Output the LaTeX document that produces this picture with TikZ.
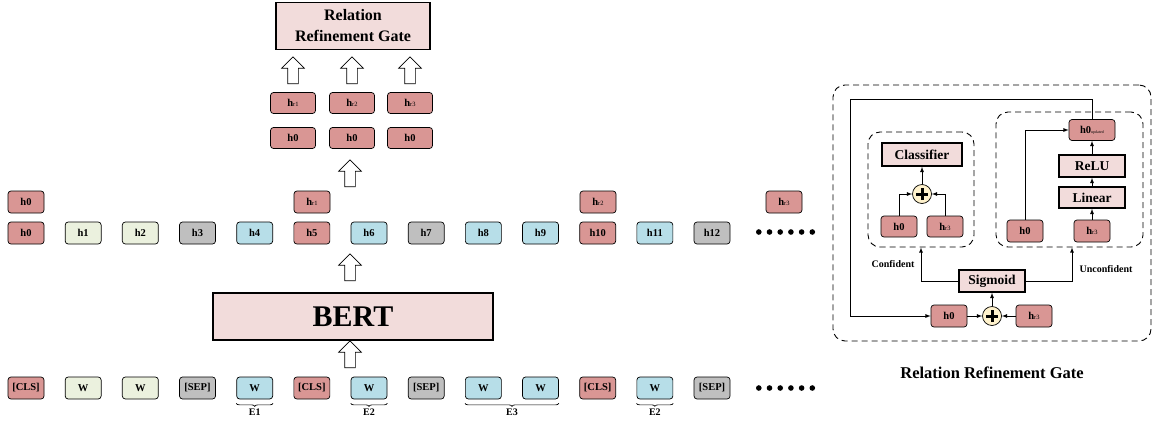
\documentclass[tikz,border=0pt]{standalone}
\usepackage{fontspec}
\setmainfont{Liberation Serif}
\usetikzlibrary{arrows,shapes.arrows,decorations.pathreplacing}
\definecolor{redtokc}{HTML}{D99694}
\definecolor{greentokc}{HTML}{EBF1DE}
\definecolor{graytokc}{HTML}{BFBFBF}
\definecolor{bluetokc}{HTML}{B7DEE8}
\definecolor{pinkboxc}{HTML}{F2DCDB}
\definecolor{plusc}{HTML}{FFF2CC}
\newcommand{\hrel}[1]{h{\fontsize{6.5}{6.5}\selectfont\mdseries #1}}
\newcommand{\hupd}{h0{\fontsize{4}{4}\selectfont\mdseries updated}}

\begin{document}
\begin{tikzpicture}[x=1pt,y=-1pt,
  tok/.style={draw,line width=0.7pt,rounded corners=3pt,minimum width=36pt,minimum height=22pt,inner sep=0pt,font=\fontsize{10.5}{12}\selectfont\bfseries},
  redtok/.style={tok,fill=redtokc},
  greentok/.style={tok,fill=greentokc},
  graytok/.style={tok,fill=graytokc},
  bluetok/.style={tok,fill=bluetokc},
  widetok/.style={redtok,minimum width=45pt,minimum height=21pt},
  bigbox/.style={draw,line width=1.6pt,fill=pinkboxc,inner sep=0pt,font=\fontsize{13.5}{16}\selectfont\bfseries},
  blockup/.style={single arrow,draw,line width=0.7pt,fill=white,rotate=90,minimum height=27pt,inner xsep=0pt,inner ysep=5pt,single arrow head extend=6pt},
  oplus/.style={circle,draw,line width=0.7pt,fill=plusc,minimum size=19pt,inner sep=0pt,
    path picture={\draw[line width=3pt] ([xshift=-6pt]path picture bounding box.center) -- ([xshift=6pt]path picture bounding box.center)
      ([yshift=-6pt]path picture bounding box.center) -- ([yshift=6pt]path picture bounding box.center);}},
  dashbox/.style={draw=black,line width=0.9pt,dash pattern=on 6pt off 4pt,rounded corners=12pt},
  conn/.style={draw,line width=0.8pt,-latex},
  lab/.style={font=\fontsize{10}{12}\selectfont\bfseries}]
\useasboundingbox (0,0) rectangle (1156,421);

% input tokens and BERT outputs
\foreach \lab/\sty [count=\i from 0] in {{[CLS]}/redtok,W/greentok,W/greentok,{[SEP]}/graytok,W/bluetok,{[CLS]}/redtok,W/bluetok,{[SEP]}/graytok,W/bluetok,W/bluetok,{[CLS]}/redtok,W/bluetok,{[SEP]}/graytok}
  \node[\sty] (t\i) at ({26+57.17*\i},388) {\lab};
\foreach \sty [count=\i from 0] in {redtok,greentok,greentok,graytok,bluetok,redtok,bluetok,graytok,bluetok,bluetok,redtok,bluetok,graytok}
  \node[\sty] (h\i) at ({26+57.17*\i},233) {h\i};
\foreach \k in {0,...,5} {
  \fill (758.8+\k*10.7,232) circle (2.8);
  \fill (758.8+\k*10.7,388) circle (2.8);
}

% picked vectors
\node[redtok] (hc) at (26,202) {h0};
\node[redtok] (hrA) at (312,202) {\hrel{r1}};
\node[redtok] (hrB) at (598,202) {\hrel{r2}};
\node[redtok] (hrC) at (784,202) {\hrel{r3}};

% entity braces
\draw[decorate,decoration={brace,mirror,amplitude=3pt},line width=0.7pt]
  ([yshift=-4pt]t4.south west) -- ([yshift=-4pt]t4.south east) node[lab,midway,below=2pt] {E1};
\draw[decorate,decoration={brace,mirror,amplitude=3pt},line width=0.7pt]
  ([yshift=-4pt]t6.south west) -- ([yshift=-4pt]t6.south east) node[lab,midway,below=2pt] {E2};
\draw[decorate,decoration={brace,mirror,amplitude=3pt},line width=0.7pt]
  ([yshift=-4pt]t8.south west) -- ([yshift=-4pt]t9.south east) node[lab,midway,below=2pt] {E3};
\draw[decorate,decoration={brace,mirror,amplitude=3pt},line width=0.7pt]
  ([yshift=-4pt]t11.south west) -- ([yshift=-4pt]t11.south east) node[lab,midway,below=2pt] {E2};

% BERT
\node[bigbox,minimum width=280pt,minimum height=47pt,font=\fontsize{30}{32}\selectfont\bfseries] (bert) at (353,316.5) {BERT};
\node[blockup] (upA) at (350,357) {};
\node[blockup] (upB) at (350,270) {};
\node[blockup] (upC) at (350,176) {};

% pairs fed to the gate
\foreach \x/\r [count=\j] in {293/r1,352/r2,410/r3} {
  \node[widetok] (p\j) at (\x,138) {h0};
  \node[widetok] (q\j) at (\x,103) {\hrel{\r}};
  \node[blockup] (g\j) at (\x,73) {};
}
\node[bigbox,minimum width=154pt,minimum height=47pt,align=center,font=\fontsize{16}{21}\selectfont\bfseries] (rrg) at (353,26) {Relation\\Refinement Gate};

% Relation Refinement Gate panel
\node[dashbox,minimum width=318pt,minimum height=256pt] (panel) at (992,213) {};
\node[dashbox,minimum width=106pt,minimum height=115pt] (leftgate) at (921,189.5) {};
\node[dashbox,minimum width=147pt,minimum height=135pt] (rightgate) at (1069.5,179.5) {};
\node[font=\fontsize{16.5}{20}\selectfont\bfseries] (title) at (992,373) {Relation Refinement Gate};

\node[redtok] (h0b) at (949,316) {h0};
\node[oplus] (pb) at (992,316) {};
\node[redtok] (hr3b) at (1034,316) {\hrel{r3}};
\node[bigbox,minimum width=66pt,minimum height=22pt] (sig) at (992,281) {Sigmoid};

\node[bigbox,minimum width=80pt,minimum height=23pt] (cls) at (922,154.5) {Classifier};
\node[oplus] (pc) at (922,194) {};
\node[redtok,minimum height=21pt] (h0c) at (899,226.5) {h0};
\node[redtok,minimum height=21pt] (hr3c) at (945,226.5) {\hrel{r3}};

\node[redtok,minimum width=46pt,minimum height=21pt] (h0upd) at (1092,130) {\hupd};
\node[bigbox,minimum width=66pt,minimum height=22pt] (relu) at (1092,166) {ReLU};
\node[bigbox,minimum width=66pt,minimum height=21pt] (lin) at (1092,197.5) {Linear};
\node[redtok] (h0d) at (1025,231) {h0};
\node[redtok] (hr3d) at (1092,231) {\hrel{r3}};

\node[lab] (conf) at (893,264) {Confident};
\node[lab] (unconf) at (1106,269) {Unconfident};
\coordinate (loopcorner) at (850,99);

\path[conn]
  (h0b) edge (pb)
  (hr3b) edge (pb)
  (pb) edge (sig)
  (pc) edge (cls)
  (hr3d) edge (lin)
  (lin) edge (relu)
  (relu) edge (h0upd);
\draw[conn] (h0upd.north) |- (loopcorner) |- (h0b.west);
\draw[conn] (sig.west) -| (leftgate.south);
\draw[conn] (sig.east) -| ([xshift=2.5pt]rightgate.south);
\draw[conn] (h0c.north) |- (pc.west);
\draw[conn] (hr3c.north) |- (pc.east);
\draw[conn] (h0d.north) |- (h0upd.west);
\end{tikzpicture}
\end{document}
